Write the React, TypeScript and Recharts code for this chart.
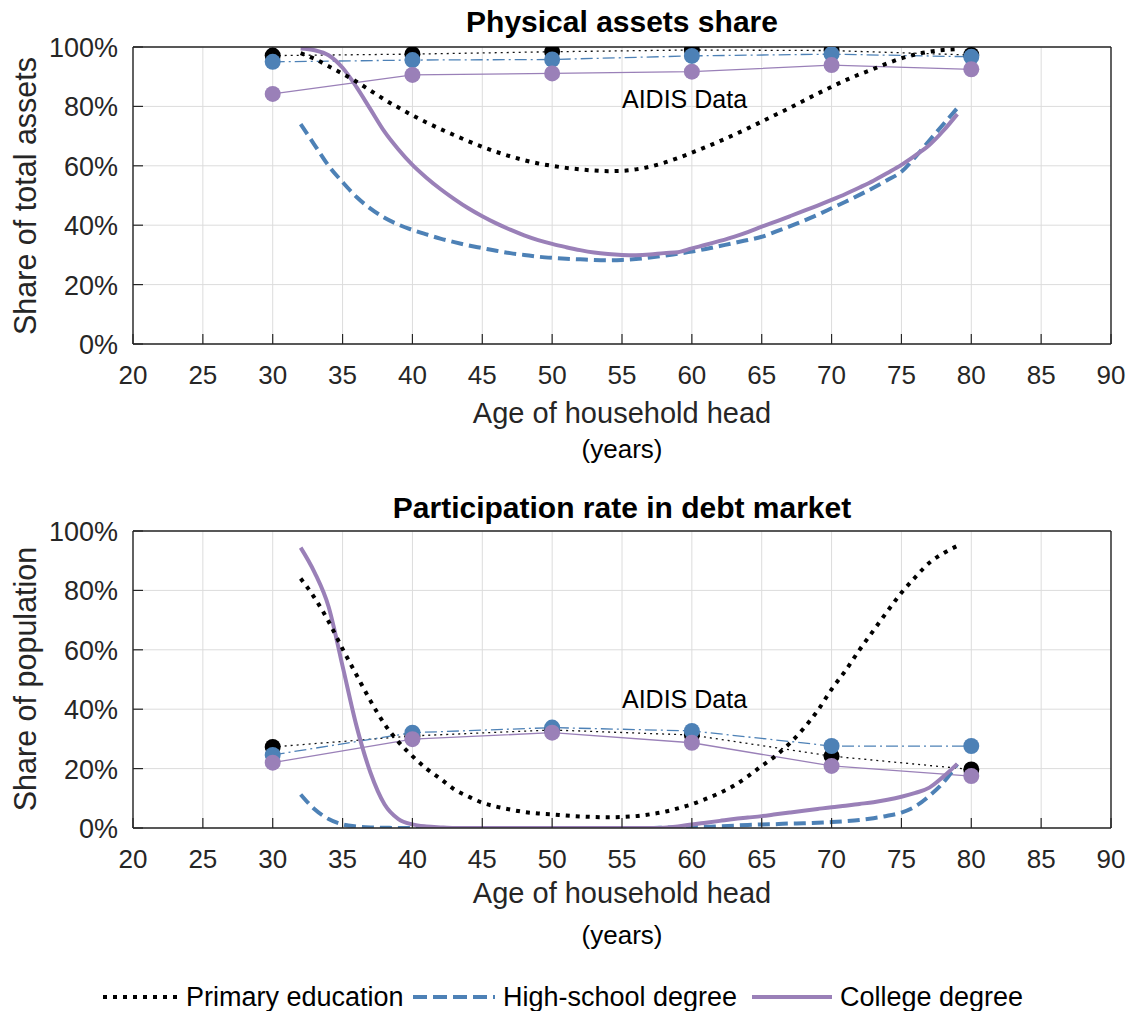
import { LineChart, Line, XAxis, YAxis, CartesianGrid } from "recharts";

const ages = [32, 33, 34, 35, 36, 37, 38, 39, 40, 41, 42, 43, 44, 45, 46, 47, 48, 49, 50, 51, 52, 53, 54, 55,
  56, 57, 58, 59, 60, 61, 62, 63, 64, 65, 66, 67, 68, 69, 70, 71, 72, 73, 74, 75, 76, 77, 78, 79];
const surveyAges = [30, 40, 50, 60, 70, 80];
const xTicks = [20, 25, 30, 35, 40, 45, 50, 55, 60, 65, 70, 75, 80, 85, 90];
const yTicks = [0, 20, 40, 60, 80, 100];

// physical assets share, model (%)
const assetsPrimary = [97.9, 96, 93.5, 91, 88.3, 85.3, 82.3, 79.6, 77, 74.6, 72.4, 70.3, 68.3, 66.4, 64.7, 63.2,
  61.9, 60.8, 60, 59.3, 58.8, 58.4, 58.2, 58.3, 58.8, 59.7, 61, 62.6, 64.4, 66.3, 68.3, 70.4, 72.6, 74.9, 77.2,
  79.5, 81.9, 84.3, 86.6, 88.8, 90.8, 92.6, 94.5, 96.2, 97.5, 98.4, 99, 99.3];
const assetsHigh = [74, 67, 60, 54.5, 49.5, 45.6, 42.5, 40.2, 38.4, 36.9, 35.5, 34.3, 33.2, 32.3, 31.4, 30.6,
  30, 29.4, 29, 28.7, 28.5, 28.3, 28.2, 28.3, 28.6, 29.1, 29.7, 30.4, 31.1, 32, 33, 34, 35, 36.1, 37.8, 39.6,
  41.5, 43.5, 45.7, 47.9, 50.2, 52.6, 55.2, 58, 63, 68.5, 74, 79.4];
const assetsCollege = [99.5, 98.9, 97.2, 93, 86.5, 79, 71.5, 65.5, 60.3, 56, 52.2, 48.8, 45.7, 43, 40.6,
  38.5, 36.6, 35, 33.7, 32.6, 31.6, 30.8, 30.3, 30, 29.9, 30.1, 30.6, 30.9, 32.2, 33.4, 34.7, 36.1, 37.7,
  39.5, 41.2, 43, 44.8, 46.6, 48.5, 50.5, 52.7, 55, 57.6, 60.3, 63.5, 67, 71.8, 77.4];

// physical assets share, AIDIS data (%)
const assetsDataPrimary = [97.1, 97.6, 98.4, 99, 98.8, 97.3];
const assetsDataHigh = [95, 95.6, 95.8, 97, 97.6, 96.7];
const assetsDataCollege = [84.2, 90.6, 91.1, 91.7, 93.9, 92.5];

// participation rate in debt market, model (%)
const debtPrimary = [84, 77.5, 69.5, 60.3, 51.5, 42.8, 35, 29, 24.2, 20, 16.6, 13, 10.6, 8.5, 7.2, 6.2, 5.4,
  4.9, 4.6, 4.2, 3.9, 3.7, 3.6, 3.7, 4, 4.6, 5.4, 6.6, 8, 9.8, 11.8, 14.2, 17.4, 20.9, 24.3, 28.5, 33.5, 39.5,
  46.7, 53, 60, 66.5, 73, 79.2, 84.5, 89.3, 92.5, 95];
const debtHigh = [11.3, 6.3, 3, 1.2, 0.5, 0.2, 0.1, 0, 0, 0, 0, 0, 0, 0, 0, 0, 0, 0, 0, 0, 0, 0, 0, 0, 0, 0,
  0.1, 0.2, 0.3, 0.4, 0.6, 0.8, 1, 1.2, 1.3, 1.5, 1.6, 1.8, 2, 2.3, 2.7, 3.3, 4.1, 5.2, 7.3, 10.8, 15.3, 21.5];
const debtCollege = [94.4, 86, 74.5, 54.5, 34.3, 18.6, 8, 3, 1.2, 0.5, 0.2, 0, 0, 0, 0, 0, 0, 0, 0, 0, 0, 0,
  0, 0, 0, 0, 0.1, 0.5, 1.2, 1.8, 2.4, 3, 3.5, 4, 4.6, 5.2, 5.8, 6.4, 7, 7.5, 8.1, 8.7, 9.5, 10.5, 11.8, 13.6,
  17.3, 21.6];

// participation rate in debt market, AIDIS data (%)
const debtDataPrimary = [27.3, 31, 33, 31.3, 24.2, 19.7];
const debtDataHigh = [24.6, 32.1, 33.8, 32.7, 27.6, 27.6];
const debtDataCollege = [22, 29.9, 32.1, 28.7, 20.9, 17.5];

const FONT = '"Liberation Sans", Arial, Helvetica, sans-serif';
const INK = "#262626";
const BLUE = "#4d81b6";
const PURPLE = "#9a80b8";
const GRID = "#dcdcdc";

const BottomTick = (p: any) => (
  <g>
    <line x1={p.x} x2={p.x} y1={p.y} y2={p.y - 10} stroke={INK} strokeWidth={1.2} />
    <text x={p.x} y={p.y + 40} textAnchor="middle" fontSize={26} fill={INK} fontFamily={FONT}>
      {p.payload.value}
    </text>
  </g>
);

const TopTick = (p: any) => (
  <line x1={p.x} x2={p.x} y1={p.y} y2={p.y + 10} stroke={INK} strokeWidth={1.2} />
);

const LeftTick = (p: any) => (
  <g>
    <line x1={p.x} x2={p.x + 10} y1={p.y} y2={p.y} stroke={INK} strokeWidth={1.2} />
    <text x={p.x - 15} y={p.y + 10} textAnchor="end" fontSize={27} fill={INK} fontFamily={FONT}>
      {p.payload.value}%
    </text>
  </g>
);

const RightTick = (p: any) => (
  <line x1={p.x} x2={p.x - 10} y1={p.y} y2={p.y} stroke={INK} strokeWidth={1.2} />
);

interface PanelProps {
  top: number;
  model: number[][];
  survey: number[][];
}

function Panel({ top, model, survey }: PanelProps) {
  const modelRows = ages.map((age, i) => ({ age, primary: model[0][i], high: model[1][i], college: model[2][i] }));
  const surveyRows = surveyAges.map((age, i) => ({
    age,
    primary: survey[0][i],
    high: survey[1][i],
    college: survey[2][i],
  }));
  const axisLine = { stroke: INK, strokeWidth: 1.4 };

  return (
    <div style={{ position: "absolute", left: 0, top }}>
      <LineChart width={1135} height={480} margin={{ top: 46, right: 23, left: 73, bottom: 106 }}>
        <CartesianGrid stroke={GRID} strokeWidth={1} />
        <XAxis
          dataKey="age"
          type="number"
          domain={[20, 90]}
          ticks={xTicks}
          height={30}
          tickSize={0}
          tickMargin={0}
          tickLine={false}
          axisLine={axisLine}
          tick={<BottomTick />}
          allowDataOverflow
        />
        <XAxis
          xAxisId="top"
          orientation="top"
          type="number"
          domain={[20, 90]}
          ticks={xTicks}
          height={1}
          tickSize={0}
          tickMargin={0}
          tickLine={false}
          axisLine={axisLine}
          tick={<TopTick />}
        />
        <YAxis
          type="number"
          domain={[0, 100]}
          ticks={yTicks}
          width={60}
          tickSize={0}
          tickMargin={0}
          tickLine={false}
          axisLine={axisLine}
          tick={<LeftTick />}
          allowDataOverflow
        />
        <YAxis
          yAxisId="right"
          orientation="right"
          type="number"
          domain={[0, 100]}
          ticks={yTicks}
          width={1}
          tickSize={0}
          tickMargin={0}
          tickLine={false}
          axisLine={axisLine}
          tick={<RightTick />}
        />
        <Line
          data={surveyRows}
          dataKey="primary"
          stroke="#111"
          strokeWidth={1.3}
          strokeDasharray="2 4"
          dot={{ r: 8, fill: "#000", stroke: "#000", strokeWidth: 0 }}
          activeDot={false}
          isAnimationActive={false}
        />
        <Line
          data={surveyRows}
          dataKey="high"
          stroke={BLUE}
          strokeWidth={1.3}
          strokeDasharray="12 4 2 4"
          dot={{ r: 8, fill: BLUE, stroke: BLUE, strokeWidth: 0 }}
          activeDot={false}
          isAnimationActive={false}
        />
        <Line
          data={surveyRows}
          dataKey="college"
          stroke={PURPLE}
          strokeWidth={1.3}
          dot={{ r: 8, fill: PURPLE, stroke: PURPLE, strokeWidth: 0 }}
          activeDot={false}
          isAnimationActive={false}
        />
        <Line
          data={modelRows}
          dataKey="high"
          type="monotone"
          stroke={BLUE}
          strokeWidth={4}
          strokeDasharray="12 6"
          dot={false}
          activeDot={false}
          isAnimationActive={false}
        />
        <Line
          data={modelRows}
          dataKey="college"
          type="monotone"
          stroke={PURPLE}
          strokeWidth={4}
          dot={false}
          activeDot={false}
          isAnimationActive={false}
        />
        <Line
          data={modelRows}
          dataKey="primary"
          type="monotone"
          stroke="#000"
          strokeWidth={4}
          strokeDasharray="4 6"
          dot={false}
          activeDot={false}
          isAnimationActive={false}
        />
      </LineChart>
    </div>
  );
}

function Texts() {
  const t = { fontFamily: FONT, fill: "#000" };
  return (
    <svg
      width={1135}
      height={1011}
      style={{ position: "absolute", left: 0, top: 0, pointerEvents: "none" }}
    >
      <text x={622} y={32} textAnchor="middle" fontSize={30} fontWeight="bold" {...t}>
        Physical assets share
      </text>
      <text x={622} y={423} textAnchor="middle" fontSize={29} {...t} fill={INK}>
        Age of household head
      </text>
      <text x={622} y={458} textAnchor="middle" fontSize={26} {...t}>
        (years)
      </text>
      <text transform="translate(36,196) rotate(-90)" textAnchor="middle" fontSize={30.5} {...t} fill={INK}>
        Share of total assets
      </text>
      <text x={622} y={108} fontSize={25} {...t}>
        AIDIS Data
      </text>

      <text x={622} y={518} textAnchor="middle" fontSize={30} fontWeight="bold" {...t}>
        Participation rate in debt market
      </text>
      <text x={622} y={903} textAnchor="middle" fontSize={29} {...t} fill={INK}>
        Age of household head
      </text>
      <text x={622} y={944} textAnchor="middle" fontSize={26} {...t}>
        (years)
      </text>
      <text transform="translate(36,679) rotate(-90)" textAnchor="middle" fontSize={30.5} {...t} fill={INK}>
        Share of population
      </text>
      <text x={622} y={708} fontSize={25} {...t}>
        AIDIS Data
      </text>

      <line x1={103} x2={180} y1={997} y2={997} stroke="#000" strokeWidth={4} strokeDasharray="4 6" />
      <text x={186} y={1006} fontSize={27} {...t}>
        Primary education
      </text>
      <line x1={413} x2={495} y1={997} y2={997} stroke={BLUE} strokeWidth={4} strokeDasharray="14 6" />
      <text x={503} y={1006} fontSize={27} {...t}>
        High-school degree
      </text>
      <line x1={752} x2={832} y1={997} y2={997} stroke={PURPLE} strokeWidth={4} />
      <text x={840} y={1006} fontSize={27} {...t}>
        College degree
      </text>
    </svg>
  );
}

export default function App() {
  return (
    <div style={{ position: "absolute", left: 0, top: 0, width: 1135, height: 1011, background: "#fff" }}>
      <Panel top={0} model={[assetsPrimary, assetsHigh, assetsCollege]} survey={[assetsDataPrimary, assetsDataHigh, assetsDataCollege]} />
      <Panel top={484} model={[debtPrimary, debtHigh, debtCollege]} survey={[debtDataPrimary, debtDataHigh, debtDataCollege]} />
      <Texts />
    </div>
  );
}
